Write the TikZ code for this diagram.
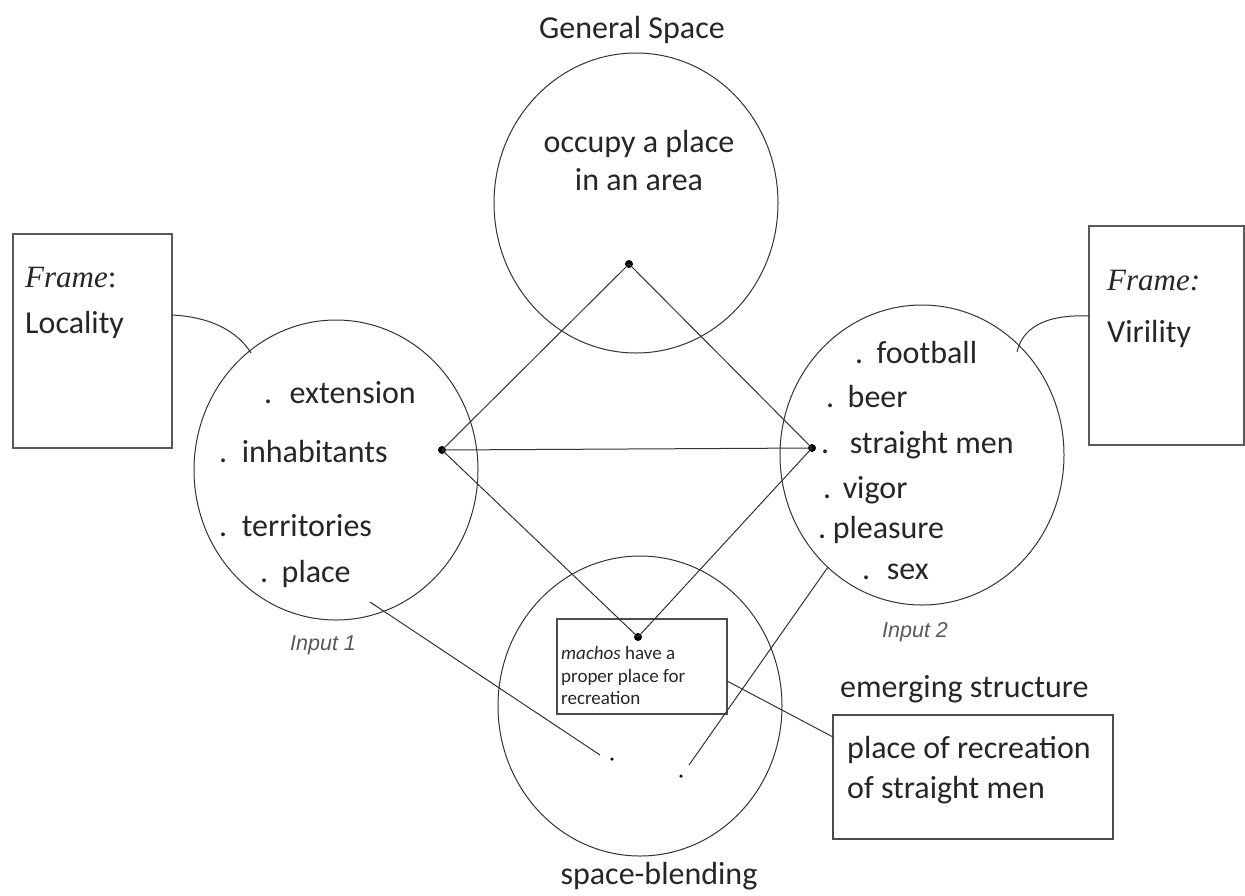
\documentclass[tikz,border=0pt]{standalone}
\usepackage{fontspec}
\setmainfont{Carlito}
\newfontfamily\framefont{Liberation Serif}
\newfontfamily\inputfont{Liberation Sans}
\usetikzlibrary{shapes.geometric}
\begin{document}
\begin{tikzpicture}[x=1pt,y=-1pt,
  ring/.style={draw=black!80, line width=1pt, ellipse, minimum width=284pt, minimum height=300pt, inner sep=0pt},
  bigdot/.style={circle, fill=black, inner sep=0pt, minimum size=8pt},
  smalldot/.style={circle, fill=black, inner sep=0pt, minimum size=3.5pt},
  link/.style={draw=black!80, line width=1pt},
  framebox/.style={draw=black!65, line width=1.8pt, inner sep=0pt},
  thinbox/.style={draw=black!70, line width=1.3pt, inner sep=0pt},
  txt/.style={font=\fontsize{32}{38}\selectfont, text=black!85, inner sep=0pt},
  item/.style={txt, anchor=base west},
  frm/.style={font=\fontsize{31}{36}\selectfont\framefont\itshape, text=black!85, inner sep=0pt, anchor=base west},
  inp/.style={font=\fontsize{21.5}{26}\selectfont\inputfont\itshape, text=black!65, inner sep=0pt, anchor=base west},
  small/.style={font=\fontsize{19}{22}\selectfont, text=black!85, inner sep=0pt, anchor=base west}
]
\useasboundingbox (0,0) rectangle (1245,895);
\fill[white] (0,0) rectangle (1245,895);

% circles
\node[ring] (gen) at (636,203) {};
\node[ring] (in1) at (336,470) {};
\node[ring] (in2) at (922,455) {};
\node[ring] (blend) at (640,706) {};

% boxes
\node[framebox, minimum width=159pt, minimum height=214pt] (lbox) at (92.5,341) {};
\node[framebox, minimum width=155pt, minimum height=219pt] (rbox) at (1166.5,335.5) {};
\node[thinbox, minimum width=170pt, minimum height=95pt] (mbox) at (642,666.5) {};
\node[thinbox, minimum width=280pt, minimum height=124pt] (ebox) at (973,777) {};

% titles
\node[txt, anchor=base] (tgen) at (632,38) {General Space};
\node[txt, anchor=base] (tocc1) at (639,152) {occupy a place};
\node[txt, anchor=base] (tocc2) at (639,190) {in an area};
\node[txt, anchor=base] (tblend) at (659,884) {space-blending};
\node[item] (temerg) at (840,697) {emerging structure};
\node[item] (te1) at (847,758) {place of recreation};
\node[item] (te2) at (847,798) {of straight men};

% frames
\node[frm] (f1) at (25,287) {Frame\upshape:};
\node[item] (f1b) at (25,333) {Locality};
\node[frm] (f2) at (1107,290) {Frame:};
\node[item] (f2b) at (1107,342) {Virility};

% input labels
\node[inp] (i1) at (290,650) {Input 1};
\node[inp] (i2) at (882,637) {Input 2};

% input 1 items
\node[item] (a1) at (264,403) {.\hspace{17.5pt}extension};
\node[item] (a2) at (219,462) {.\hspace{14.5pt}inhabitants};
\node[item] (a3) at (219,536) {.\hspace{14.5pt}territories};
\node[item] (a4) at (260,582) {.\hspace{13.5pt}place};

% input 2 items
\node[item] (b1) at (855,363) {.\hspace{13.5pt}football};
\node[item] (b2) at (826,407) {.\hspace{13.5pt}beer};
\node[item] (b3) at (821,453) {.\hspace{20.5pt}straight men};
\node[item] (b4) at (823,498) {.\hspace{11.5pt}vigor};
\node[item] (b5) at (818,538) {.\hspace{6.5pt}pleasure};
\node[item] (b6) at (862,579) {.\hspace{16.5pt}sex};

% blend text
\node[small] (m1) at (561,659) {\textit{machos} have a};
\node[small] (m2) at (561,682) {proper place for};
\node[small] (m3) at (561,704) {recreation};

% dots
\node[bigdot] (dg) at (629,264) {};
\node[bigdot] (d1) at (442,450) {};
\node[bigdot] (d2) at (812,448) {};
\node[bigdot] (db) at (638,637) {};
\node[smalldot] (s1) at (612,759) {};
\node[smalldot] (s2) at (681,776) {};

% connector end points
\coordinate (p1) at (370,602);
\coordinate (p1e) at (600,755);
\coordinate (p2) at (828,567);
\coordinate (p2e) at (689,765);
\coordinate (m) at (727,681);
\coordinate (e) at (833,737);
\coordinate (c1) at (251,353);
\coordinate (lb) at (172,315);
\coordinate (c2) at (1017,352);
\coordinate (rb) at (1089,316);

% connectors
\draw[link] (dg.center) -- (d1.center);
\draw[link] (dg.center) -- (d2.center);
\draw[link] (d1.center) -- (d2.center);
\draw[link] (d1.center) -- (db.center);
\draw[link] (d2.center) -- (db.center);
\draw[link] (p1) -- (p1e);
\draw[link] (p2) -- (p2e);
\draw[link] (m) -- (e);
\draw[link] (lb) .. controls (212,317) and (238,332) .. (c1);
\draw[link] (rb) .. controls (1042,314) and (1022,330) .. (c2);
\end{tikzpicture}
\end{document}
